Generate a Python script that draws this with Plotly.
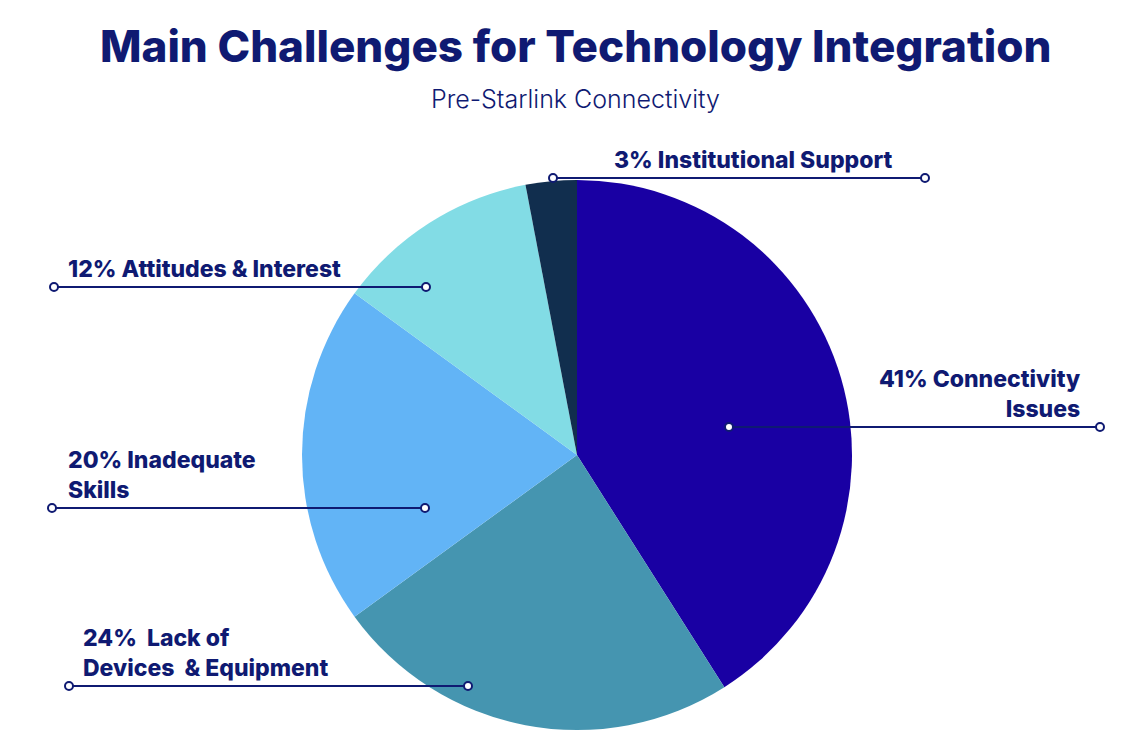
import plotly.graph_objects as go

# data
categories = ["Connectivity Issues", "Lack of Devices & Equipment", "Inadequate Skills",
              "Attitudes & Interest", "Institutional Support"]
shares = [41, 24, 20, 12, 3]
label_texts = ["41% Connectivity<br>Issues", "24%  Lack of<br>Devices  & Equipment",
               "20% Inadequate<br>Skills", "12% Attitudes & Interest", "3% Institutional Support"]
slice_colors = ["#1900a3", "#4595b0", "#62b4f6", "#82dce5", "#112e4e"]

W, H = 1134, 744
OFF = 8  # page body margin, coordinates below are window pixels
NAVY = "#0f1a72"

# pie placement (window pixels)
cx, cy, r = 577, 455, 275

# leader lines: (x0, x1, y, text x, anchor) in window pixels
leaders = [
    (729, 1100, 427, 1082, "right"),
    (69, 468, 686, 81, "left"),
    (52, 425, 508, 66, "left"),
    (54, 426, 287, 66, "left"),
    (553, 925, 178, 753, "center"),
]

fig = go.Figure()

fig.add_trace(go.Pie(
    labels=categories, values=shares, sort=False, direction="clockwise", rotation=0,
    marker=dict(colors=slice_colors, line=dict(width=0)),
    textinfo="none", hoverinfo="label+percent", showlegend=False,
    domain=dict(x=[(cx - r - OFF) / W, (cx + r - OFF) / W],
                y=[1 - (cy + r - OFF) / H, 1 - (cy - r - OFF) / H]),
))

dot = 4
for (x0, x1, y, tx, anchor), txt in zip(leaders, label_texts):
    fig.add_shape(type="line", x0=x0, x1=x1, y0=y, y1=y, xref="x", yref="y",
                  line=dict(color=NAVY, width=2), layer="above")
    for xe in (x0, x1):
        fig.add_shape(type="circle", x0=xe - dot, x1=xe + dot, y0=y - dot, y1=y + dot,
                      xref="x", yref="y", fillcolor="white",
                      line=dict(color=NAVY, width=2), layer="above")
    fig.add_annotation(
        x=tx, y=y - 2, xref="x", yref="y", text=txt, showarrow=False,
        xanchor=anchor, yanchor="bottom", align=anchor,
        font=dict(family="Inter", size=23, color=NAVY, weight=800),
    )

fig.add_annotation(
    x=0.5, y=1 - (46 - OFF) / H, xref="paper", yref="paper",
    text="Main Challenges for Technology Integration",
    showarrow=False, xanchor="center", yanchor="middle",
    font=dict(family="Inter", size=44, color=NAVY, weight=800),
)
fig.add_annotation(
    x=0.5, y=1 - (99 - OFF) / H, xref="paper", yref="paper", text="Pre-Starlink Connectivity",
    showarrow=False, xanchor="center", yanchor="middle",
    font=dict(family="Inter", size=25, color=NAVY, weight=300),
)

fig.update_layout(
    width=W, height=H, margin=dict(l=0, r=0, t=0, b=0),
    paper_bgcolor="white", plot_bgcolor="rgba(0,0,0,0)",
    xaxis=dict(range=[OFF, W + OFF], visible=False, fixedrange=True),
    yaxis=dict(range=[H + OFF, OFF], visible=False, fixedrange=True),
)

fig.write_html("out.html")
